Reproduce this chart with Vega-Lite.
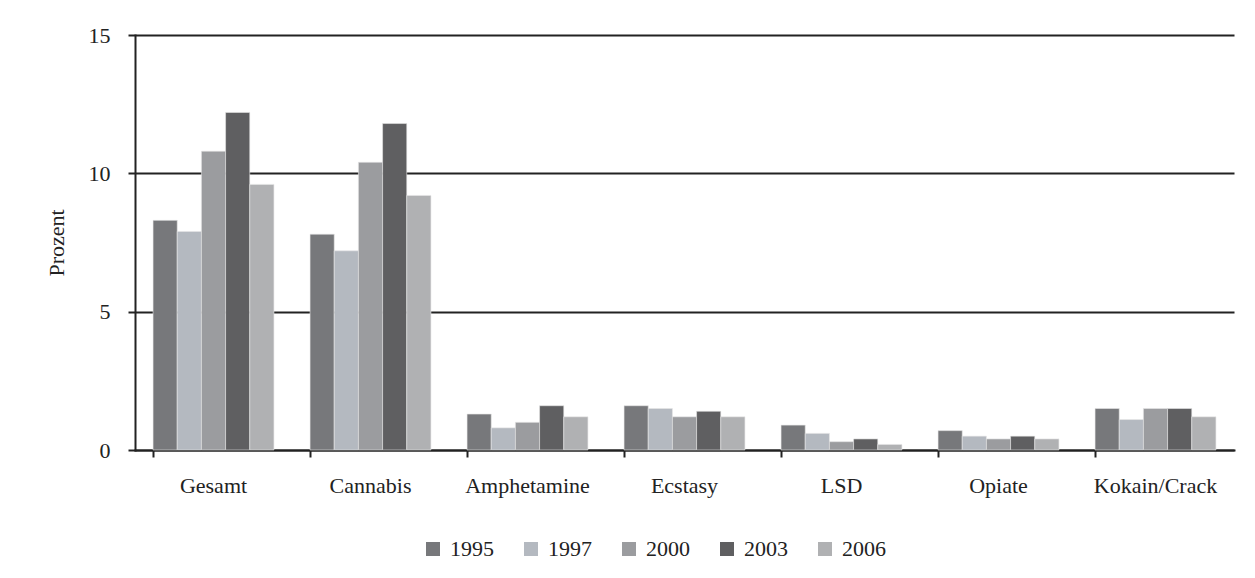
{
  "$schema": "https://vega.github.io/schema/vega-lite/v6.json",
  "autosize": "none",
  "width": 1099,
  "height": 415,
  "padding": {"left": 135, "top": 35, "right": 21, "bottom": 128},
  "background": "white",
  "data": {
    "values": [
      {"kategorie": "Gesamt", "jahr": "1995", "prozent": 8.3},
      {"kategorie": "Gesamt", "jahr": "1997", "prozent": 7.9},
      {"kategorie": "Gesamt", "jahr": "2000", "prozent": 10.8},
      {"kategorie": "Gesamt", "jahr": "2003", "prozent": 12.2},
      {"kategorie": "Gesamt", "jahr": "2006", "prozent": 9.6},
      {"kategorie": "Cannabis", "jahr": "1995", "prozent": 7.8},
      {"kategorie": "Cannabis", "jahr": "1997", "prozent": 7.2},
      {"kategorie": "Cannabis", "jahr": "2000", "prozent": 10.4},
      {"kategorie": "Cannabis", "jahr": "2003", "prozent": 11.8},
      {"kategorie": "Cannabis", "jahr": "2006", "prozent": 9.2},
      {"kategorie": "Amphetamine", "jahr": "1995", "prozent": 1.3},
      {"kategorie": "Amphetamine", "jahr": "1997", "prozent": 0.8},
      {"kategorie": "Amphetamine", "jahr": "2000", "prozent": 1.0},
      {"kategorie": "Amphetamine", "jahr": "2003", "prozent": 1.6},
      {"kategorie": "Amphetamine", "jahr": "2006", "prozent": 1.2},
      {"kategorie": "Ecstasy", "jahr": "1995", "prozent": 1.6},
      {"kategorie": "Ecstasy", "jahr": "1997", "prozent": 1.5},
      {"kategorie": "Ecstasy", "jahr": "2000", "prozent": 1.2},
      {"kategorie": "Ecstasy", "jahr": "2003", "prozent": 1.4},
      {"kategorie": "Ecstasy", "jahr": "2006", "prozent": 1.2},
      {"kategorie": "LSD", "jahr": "1995", "prozent": 0.9},
      {"kategorie": "LSD", "jahr": "1997", "prozent": 0.6},
      {"kategorie": "LSD", "jahr": "2000", "prozent": 0.3},
      {"kategorie": "LSD", "jahr": "2003", "prozent": 0.4},
      {"kategorie": "LSD", "jahr": "2006", "prozent": 0.2},
      {"kategorie": "Opiate", "jahr": "1995", "prozent": 0.7},
      {"kategorie": "Opiate", "jahr": "1997", "prozent": 0.5},
      {"kategorie": "Opiate", "jahr": "2000", "prozent": 0.4},
      {"kategorie": "Opiate", "jahr": "2003", "prozent": 0.5},
      {"kategorie": "Opiate", "jahr": "2006", "prozent": 0.4},
      {"kategorie": "Kokain/Crack", "jahr": "1995", "prozent": 1.5},
      {"kategorie": "Kokain/Crack", "jahr": "1997", "prozent": 1.1},
      {"kategorie": "Kokain/Crack", "jahr": "2000", "prozent": 1.5},
      {"kategorie": "Kokain/Crack", "jahr": "2003", "prozent": 1.5},
      {"kategorie": "Kokain/Crack", "jahr": "2006", "prozent": 1.2}
    ]
  },
  "mark": {"type": "bar", "stroke": "#e6e6e6", "strokeWidth": 0.6},
  "encoding": {
    "x": {
      "field": "kategorie",
      "type": "nominal",
      "sort": ["Gesamt", "Cannabis", "Amphetamine", "Ecstasy", "LSD", "Opiate", "Kokain/Crack"],
      "scale": {"paddingInner": 0.23, "paddingOuter": 0.115},
      "axis": {
        "title": null,
        "labelAngle": 0,
        "bandPosition": 0,
        "ticks": true,
        "tickSize": 7,
        "tickWidth": 2,
        "tickColor": "#222222",
        "domainColor": "#222222",
        "domainWidth": 2,
        "labelPadding": 18,
        "labelFont": "Times New Roman, Liberation Serif, DejaVu Serif, serif",
        "labelFontSize": 22,
        "labelColor": "#222222",
        "grid": false
      }
    },
    "xOffset": {
      "field": "jahr",
      "type": "nominal",
      "scale": {"paddingInner": 0, "paddingOuter": 0}
    },
    "y": {
      "field": "prozent",
      "type": "quantitative",
      "scale": {"domain": [0, 15], "nice": false},
      "axis": {
        "title": "Prozent",
        "values": [0, 5, 10, 15],
        "tickSize": 7,
        "tickWidth": 2,
        "tickColor": "#222222",
        "domainColor": "#222222",
        "domainWidth": 2,
        "grid": true,
        "gridColor": "#222222",
        "gridWidth": 2,
        "gridOpacity": 1,
        "labelPadding": 18,
        "labelFont": "Times New Roman, Liberation Serif, DejaVu Serif, serif",
        "labelFontSize": 22,
        "labelColor": "#222222",
        "titleFont": "Times New Roman, Liberation Serif, DejaVu Serif, serif",
        "titleFontSize": 22,
        "titleFontWeight": "normal",
        "titleColor": "#222222",
        "titlePadding": 20
      }
    },
    "color": {
      "field": "jahr",
      "type": "nominal",
      "scale": {
        "domain": ["1995", "1997", "2000", "2003", "2006"],
        "range": ["#77787b", "#b4b9c0", "#9b9c9f", "#5f5f61", "#b0b1b3"]
      },
      "legend": {
        "title": null,
        "orient": "none",
        "direction": "horizontal",
        "legendX": 287,
        "legendY": 503,
        "symbolType": "square",
        "symbolSize": 196,
        "symbolStrokeWidth": 0,
        "labelFont": "Times New Roman, Liberation Serif, DejaVu Serif, serif",
        "labelFontSize": 22,
        "labelColor": "#222222",
        "labelOffset": 6,
        "columnPadding": 26
      }
    }
  },
  "config": {
    "view": {"stroke": null},
    "axis": {"domainCap": "square"}
  }
}
